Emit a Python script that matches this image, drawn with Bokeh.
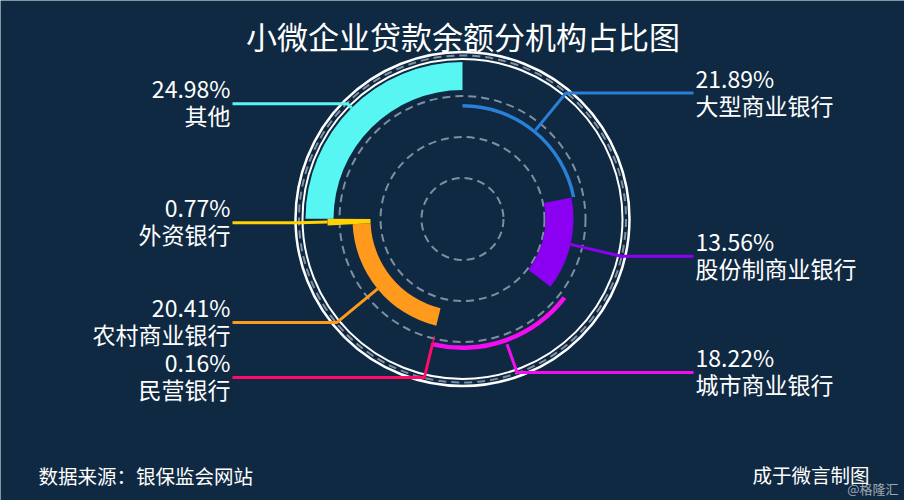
import math
from bokeh.plotting import figure
from bokeh.models import Range1d
from bokeh.core.properties import value
from bokeh.embed import file_html
from bokeh.resources import INLINE

# ---------------- data ----------------
title_text = "小微企业贷款余额分机构占比图"
names = ["大型商业银行", "股份制商业银行", "城市商业银行", "民营银行",
         "农村商业银行", "外资银行", "其他"]
shares = [21.89, 13.56, 18.22, 0.16, 20.41, 0.77, 24.98]
source_note = "数据来源：银保监会网站"
credit_text = "成于微言制图"
watermark_text = "@格隆汇"

# ---------------- style ----------------
BG = "#0f2942"
colors = ["#2a7fd6", "#8c00f2", "#f50cf0", "#ff0b6a", "#ff9a1c", "#ffd200", "#58f6f2"]
inner_r = [111.5, 83, 126.5, 120, 92, 92, 129]
outer_r = [115, 111, 131, 128, 110, 135, 157]
line_start_r = [115, 111, 133, 127, 110, 135, 157]
elbow_r = 163
FONT = value("Noto Sans CJK SC")
CX, CY = 462, 218.5  # chart centre in page pixels

W, H = 904, 500
p = figure(width=W, height=H, output_backend="svg", toolbar_location=None,
           x_range=Range1d(-CX, W - CX), y_range=Range1d(CY - H, CY),
           min_border=0, background_fill_color=BG, border_fill_color=BG,
           outline_line_color=None)
p.axis.visible = False
p.grid.visible = False

# dashed guide circles
for r in [41, 82, 123]:
    p.circle(x=0, y=0, radius=r, fill_color=None, line_color="#7f8fa3",
             line_width=2, line_dash="8 5")

# outer white rings
p.circle(x=0, y=0, radius=167, fill_color=None, line_color="white", line_width=2.5)
p.circle(x=0, y=0, radius=160, fill_color=None, line_color="white", line_width=2)
p.circle(x=0, y=0, radius=163.5, fill_color=None, line_color="#7f8fa3",
         line_width=2, line_dash="8 5")

# wedges
total = sum(shares)
cum = 0.0
starts, ends, mids = [], [], []
for s in shares:
    c0, c1 = cum / total, (cum + s) / total
    starts.append(math.pi / 2 - 2 * math.pi * c0)
    ends.append(math.pi / 2 - 2 * math.pi * c1)
    mids.append(2 * math.pi * (c0 + c1) / 2)  # clockwise from top
    cum += s

p.annular_wedge(x=[0] * len(shares), y=[0] * len(shares),
                inner_radius=inner_r, outer_radius=outer_r,
                start_angle=starts, end_angle=ends, direction="clock",
                fill_color=colors, line_color=None)

# label lines and texts
xs, ys = [], []
for i, th in enumerate(mids):
    sx, sy = line_start_r[i] * math.sin(th), line_start_r[i] * math.cos(th)
    ex, ey = elbow_r * math.sin(th), elbow_r * math.cos(th)
    right = math.sin(th) > 0
    hx = 231 if right else -230
    xs.append([sx, ex, hx])
    ys.append([sy, ey, ey])
    tx = 233 if right else -232
    align = "left" if right else "right"
    p.text(x=[tx], y=[ey + 15.5], text=[f"{shares[i]:.2f}%"], text_color="white",
           text_font=FONT, text_font_size="23px", text_align=align,
           text_baseline="middle")
    p.text(x=[tx], y=[ey - 11.5], text=[names[i]], text_color="white",
           text_font=FONT, text_font_size="23px", text_align=align,
           text_baseline="middle")

p.multi_line(xs=xs, ys=ys, line_color=colors, line_width=3)

# title and footers
p.text(x=[0.5], y=[CY - 35], text=[title_text], text_color="white",
       text_font=FONT, text_font_size="31px", text_align="center",
       text_baseline="middle")
p.text(x=[38 - CX], y=[CY - 475], text=[source_note], text_color="white",
       text_font=FONT, text_font_size="19.5px", text_align="left",
       text_baseline="middle")
p.text(x=[869 - CX], y=[CY - 474], text=[credit_text], text_color="white",
       text_font=FONT, text_font_size="19.5px", text_align="right",
       text_baseline="middle")
p.text(x=[898 - CX], y=[CY - 488], text=[watermark_text], text_color="white",
       text_alpha=0.6, text_font=FONT, text_font_size="13px", text_align="right",
       text_baseline="middle")

html = file_html(p, INLINE)
html = html.replace("<body>", f'<body style="background-color:{BG};">', 1)
open("out.html", "w").write(html)
